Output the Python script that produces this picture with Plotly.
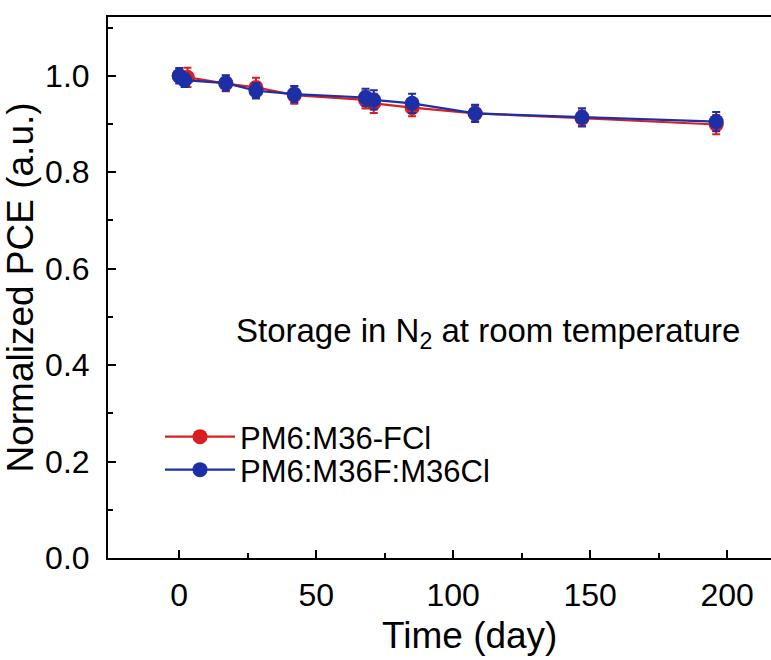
import plotly.graph_objects as go

days_a = [0, 3, 17, 28, 42, 68, 71, 85, 108, 147, 196]
pce_a = [1.000, 0.997, 0.984, 0.976, 0.960, 0.950, 0.943, 0.934, 0.922, 0.912, 0.899]
err_a = [0.012, 0.020, 0.016, 0.020, 0.018, 0.018, 0.020, 0.018, 0.016, 0.016, 0.020]

days_b = [0, 2, 17, 28, 42, 68, 71, 85, 108, 147, 196]
pce_b = [1.000, 0.991, 0.985, 0.969, 0.962, 0.955, 0.950, 0.943, 0.922, 0.914, 0.905]
err_b = [0.016, 0.014, 0.016, 0.016, 0.017, 0.018, 0.020, 0.020, 0.018, 0.019, 0.020]

name_a = "PM6:M36-FCl"
name_b = "PM6:M36F:M36Cl"
red = "#D91F21"
blue = "#1C2FA6"

FONT = "Liberation Sans, Arial, sans-serif"
W, H = 771, 660
L, R, T, B = 108, 0, 17, 102
PW, PH = W - L - R, H - T - B


def px(xp):
    return (xp - L) / PW


def py(yp):
    return (H - B - yp) / PH


fig = go.Figure()
for x, y, e, n, c, lg in [(days_a, pce_a, err_a, name_a, red, "legend"),
                          (days_b, pce_b, err_b, name_b, blue, "legend2")]:
    fig.add_trace(go.Scatter(
        x=x, y=y, name=n, mode="lines+markers", legend=lg,
        line=dict(color=c, width=2.2),
        marker=dict(color=c, size=15, symbol="circle"),
        error_y=dict(type="data", array=e, visible=True, color=c, thickness=2, width=4),
    ))

fig.add_annotation(
    x=px(488), y=py(333), xref="paper", yref="paper",
    xanchor="center", yanchor="middle",
    text="Storage in N<sub>2</sub> at room temperature",
    showarrow=False, font=dict(family=FONT, size=33, color="black"),
)
fig.add_annotation(
    x=px(470), y=py(635), xref="paper", yref="paper",
    xanchor="center", yanchor="middle",
    text="Time (day)", showarrow=False,
    font=dict(family=FONT, size=37, color="black"),
)

leg_common = dict(xanchor="left", yanchor="middle", bgcolor="rgba(0,0,0,0)",
                  font=dict(size=31), itemwidth=70)

fig.update_layout(
    width=W, height=H,
    margin=dict(l=L, r=R, t=T, b=B),
    plot_bgcolor="white", paper_bgcolor="white",
    font=dict(family=FONT, size=30, color="black"),
    showlegend=True,
    legend=dict(x=px(160), y=py(437), **leg_common),
    legend2=dict(x=px(160), y=py(470), **leg_common),
    xaxis=dict(
        range=[-26, 216], tickvals=[0, 50, 100, 150, 200],
        ticks="inside", ticklen=8, tickwidth=2, tickcolor="black",
        minor=dict(tickvals=[25, 75, 125, 175], ticks="inside", ticklen=5, tickwidth=2, tickcolor="black"),
        showline=True, linewidth=2, linecolor="black", mirror=True,
        showgrid=False, zeroline=False,
        ticklabelstandoff=8,
        tickfont=dict(size=32),
    ),
    yaxis=dict(
        range=[0, 1.122], tickvals=[0, 0.2, 0.4, 0.6, 0.8, 1.0],
        tickformat=".1f",
        ticks="inside", ticklen=8, tickwidth=2, tickcolor="black",
        minor=dict(tickvals=[0.1, 0.3, 0.5, 0.7, 0.9, 1.1], ticks="inside", ticklen=5, tickwidth=2, tickcolor="black"),
        showline=True, linewidth=2, linecolor="black", mirror=False,
        showgrid=False, zeroline=False,
        ticklabelstandoff=10,
        title=dict(text="Normalized PCE (a.u.)", font=dict(size=37), standoff=8),
        tickfont=dict(size=32),
    ),
)

fig.write_html("out.html")
